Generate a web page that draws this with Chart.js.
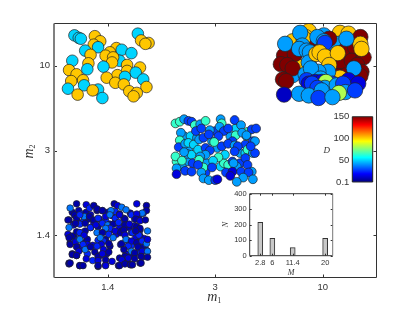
<!DOCTYPE html>
<html>
<head>
<meta charset="utf-8">
<script src="https://cdn.jsdelivr.net/npm/chart.js@4"></script>
<style>
body { margin: 0; background: #fff; }
canvas { position: absolute; left: 0; top: 0; }
</style>
</head>
<body>
<canvas id="main" width="415" height="312"></canvas>
<canvas id="bars" width="415" height="312"></canvas>
<canvas id="scale" width="415" height="312"></canvas>
<script>
// axis labels
const m1Labels = ['1.4', '3', '10'];
const m2Labels = ['1.4', '3', '10'];

// x, y are axis positions (1,2,3 = the labelled masses), d is the colour value
const smallX = [.67,.70,.73,.76,.80,.84,.90,.95,1.00,1.04,1.07,1.11,1.15,1.21,1.25,1.29,1.33,.64,.69,.73,.78,.82,.87,.92,.98,1.02,1.07,1.11,1.16,1.20,1.25,1.30,.66,.69,.74,.79,.84,.91,.97,1.02,1.08,1.13,1.22,1.26,1.30,1.34,.65,.68,.73,.78,.81,.86,.91,.98,1.02,1.12,1.18,1.22,1.28,1.33,1.36,.67,.71,.76,.81,.88,.93,.99,1.17,1.22,1.28,1.32,1.18,1.22,.74,.91,.98,1.10,1.30,.64,
    .71,.65,.80,.83,.87,.90,.95,1.06,1.09,1.03,1.13,1.17,1.27,1.36,1.36,1.32,.63,.69,.71,.78,.74,.83,.87,.91,.98,1.02,1.07,1.11,1.16,1.22,1.27,1.26,1.30,1.35,.68,.64,.74,.70,.79,.84,.89,.95,1.00,1.05,1.10,1.16,1.20,1.27,1.30,1.02,.98,.63,.67,.71,.74,.78,.90,.95,1.01,1.07,1.12,1.15,1.16,1.23,1.29,1.37,1.26,1.05,.64,.65,.70,.74,.81,.77,.96,.94,.93,1.01,1.13,1.17,1.22,1.27,1.32,1.36,1.37,.71,.73,.79,.84,.90,.96,1.01,1.19,1.22,1.28,1.32,1.37,1.15,1.25,.67,.71,.80,.86,.91,.95,.98,1.04,1.11,1.16,1.19,1.25,1.31,1.37,.91,1.13,.64,.65,.91,.98,1.11,1.16,1.21,1.23,1.31,.74,.77];
const smallY = [1.27,1.23,1.29,1.25,1.27,1.24,1.29,1.29,1.27,1.23,1.28,1.25,1.20,1.26,1.19,1.23,1.26,1.18,1.13,1.15,1.17,1.19,1.15,1.19,1.17,1.13,1.15,1.10,1.13,1.09,1.11,1.06,.98,.97,1.03,1.05,1.09,1.10,1.04,1.06,1.01,1.05,1.03,.97,.99,.96,.91,.95,.86,.91,.95,.88,.94,.95,.87,.89,.94,.88,.91,.86,.82,.78,.76,.84,.78,.80,.76,.78,.78,.76,.79,.74,.69,.65,.64,.63,.65,.64,.67,.67,
    1.37,1.32,1.36,1.32,1.35,1.31,1.29,1.37,1.35,1.29,1.33,1.30,1.37,1.35,1.29,1.26,1.18,1.24,1.20,1.22,1.24,1.22,1.18,1.20,1.22,1.24,1.20,1.24,1.19,1.24,1.25,1.19,1.17,1.18,1.12,1.09,1.13,1.14,1.14,1.09,1.12,1.14,1.12,1.13,1.15,1.12,1.13,1.10,1.08,1.08,1.08,1.01,.99,1.04,1.03,1.00,1.03,1.03,1.01,1.05,1.03,1.06,1.00,1.03,1.00,1.05,1.05,.97,.97,.89,.92,.95,.89,.89,.93,.89,.97,.90,.90,.95,.93,.91,.93,.90,.95,.86,.81,.83,.86,.87,.83,.80,.87,.81,.86,.81,.81,.83,.79,.77,.76,.72,.70,.75,.78,.71,.69,.73,.75,.73,.72,.75,.74,.70,.71,.66,.67,.64,.64,.64,.66,.65,.65,.67,.64,.64];
const smallD = [6,14,6,24,6,14,6,24,6,14,24,6,14,6,24,6,14,6,14,6,24,6,14,6,24,14,6,14,24,6,14,6,14,6,24,6,14,6,24,6,14,6,24,14,6,14,6,24,14,6,6,14,24,6,6,14,6,24,14,6,14,6,6,14,24,6,14,6,14,6,24,14,6,6,6,6,14,6,6,6,
    6,36,14,24,6,6,6,6,14,36,36,36,14,6,6,36,6,6,6,36,24,6,6,24,14,36,24,14,6,24,14,6,14,6,14,36,24,6,6,24,14,24,36,6,24,6,14,6,6,24,36,14,6,6,24,14,36,6,24,14,6,6,14,24,24,36,6,36,6,6,14,36,14,24,24,14,36,6,6,36,14,6,24,36,14,6,14,36,6,24,14,6,24,36,6,14,36,6,6,6,6,14,24,6,14,6,14,6,6,14,6,6,6,14,14,6,6,6,14,6,6,6,6,6,6,6];

const midX = [1.71,1.77,1.75,2.00,2.14,2.19,2.28,2.02,2.06,2.23,2.28,2.05,1.92,1.75,2.23,2.20,1.91,2.08,1.97,1.64,1.83,1.69,
    1.63,1.67,1.71,1.75,1.78,1.81,1.86,1.91,2.05,2.06,2.04,2.18,2.24,1.68,1.82,1.87,1.95,2.08,2.12,2.03,2.19,2.30,2.34,2.29,2.25,1.67,1.66,1.72,1.75,1.80,1.85,1.89,1.99,1.94,2.16,2.12,2.18,2.21,2.35,2.30,1.63,1.74,1.78,1.84,1.71,1.91,1.95,1.91,2.09,2.18,2.35,2.03,2.28,1.69,1.79,1.86,1.85,1.98,2.12,2.16,2.17,2.30,1.89,1.84,1.97,1.64,1.72,1.78,1.64,1.87,2.10,2.16,2.14,2.24,2.34,2.31,2.26,2.35,2.20,1.89,1.94,2.00,2.02,2.38,2.29,2.37,2.37,2.33];
const midY = [2.17,2.17,2.01,2.23,2.17,2.26,2.07,2.03,2.05,1.97,1.97,1.81,1.85,1.87,1.85,1.81,1.74,1.85,2.11,1.87,2.15,1.81,
    2.32,2.34,2.37,2.35,2.34,2.30,2.31,2.35,2.37,2.32,2.28,2.36,2.30,2.21,2.23,2.26,2.24,2.23,2.26,2.17,2.18,2.22,2.25,2.17,2.21,2.12,2.04,2.08,2.09,2.07,2.13,2.15,2.10,2.19,2.11,2.08,2.06,2.05,2.11,2.01,1.93,1.96,1.95,2.01,1.98,2.03,2.00,1.95,1.95,1.99,1.97,1.92,1.91,1.88,1.85,1.93,1.89,1.88,1.83,1.87,1.85,1.83,1.80,1.83,1.80,1.79,1.76,1.75,1.72,1.74,1.74,1.75,1.70,1.75,1.75,1.74,1.68,1.66,1.63,1.67,1.65,1.65,1.66,2.26,2.18,2.11,1.97,2.05];
const midD = [42,50,42,28,42,50,28,42,28,42,50,50,42,42,28,42,28,64,42,64,42,42,
    64,64,42,28,28,64,42,64,42,64,42,28,42,42,28,28,42,28,28,28,64,64,28,42,42,64,28,42,50,50,42,28,64,28,28,28,42,28,28,64,64,42,50,50,42,28,28,42,50,28,42,64,28,64,28,42,64,50,64,28,42,28,64,28,28,42,28,28,14,42,28,14,14,28,42,28,42,42,42,42,42,28,14,28,42,42,28,28];

const tealX = [.88,.93,.87,.79,.91,.84,.69,.73,.75,1.08,1.13,1.02,.98,1.11,1.05,1.04,1.22,.82,.81,.67,.64,.71,.77,.66,.78,.63,.72,.91,.95,.86,.96,1.18,1.30,1.18,1.09,.99,1.26,1.16,1.07,1.15,1.33,1.36,1.20,1.27,1.24,1.28,1.38,1.31,1.35];
const tealY = [3.35,3.29,3.25,3.18,3.22,3.13,3.36,3.33,3.32,3.21,3.19,3.16,3.12,3.06,3.10,3.04,3.15,3.03,2.96,3.06,2.95,2.90,2.83,2.82,2.77,2.73,2.66,2.72,2.62,2.71,2.99,3.01,2.98,2.94,2.89,2.86,2.92,2.87,2.80,2.78,2.84,2.75,2.70,2.68,2.64,3.38,3.27,3.30,3.26];
const tealD = [102,102,102,50,50,102,50,50,50,102,50,102,102,50,102,102,50,102,50,50,102,102,102,102,50,50,102,50,50,102,50,102,102,102,102,102,50,50,102,102,50,102,102,102,102,50,102,102,102];

const bigX = [2.87,3.16,2.72,3.24,2.73,2.77,3.32,2.84, 2.72,3.26,3.01,2.84,3.10,3.15,
    3.06,3.35,2.93,2.99,3.22,3.30,2.64,2.74,2.61,2.67,2.72,3.09,3.16,3.27,3.38,3.32,3.36,3.35,2.63,2.66,3.15,3.22,
    3.16,2.82,3.35,3.36, 2.79,2.65,2.95,3.22,2.81,2.78,2.85,2.88,2.87,3.29, 3.01,3.02, 2.94,2.97,3.02,3.14,3.06,
    2.91,2.84,3.05,2.96,2.89,2.98,
    2.85,2.93,2.87,2.98,2.99,3.09,3.24,3.33,2.90,3.03,3.02,2.95,3.13,3.19,
    2.78,2.87,2.99,3.21,3.15,3.30,2.96,3.09,2.64];
const bigY = [3.41,3.39,3.29,3.38,3.10,2.99,3.07,3.34, 2.89,3.12,3.36,3.24,3.20,3.26,
    3.32,3.34,3.28,3.26,3.20,3.22,3.12,3.14,3.02,3.01,2.97,3.10,3.04,3.06,3.10,3.01,2.93,2.88,2.84,2.82,2.88,2.89,
    2.86,3.33,3.26,3.20, 3.39,3.26,3.34,3.32,3.24,3.20,3.18,3.16,3.04,2.97, 3.29,3.27, 3.14,3.16,3.11,3.15,3.01,
    2.93,2.90,2.93,2.93,2.97,2.85,
    2.83,2.81,2.79,2.77,2.81,2.79,2.83,2.79,2.79,2.81,2.74,2.74,2.77,2.79,
    2.67,2.65,2.71,2.69,2.68,2.71,2.62,2.63,2.66];
const bigD = [102,102,102,102,102,102,102,102, 42,42,42,42,42,42,
    150,150,150,150,150,150,150,150,150,150,150,150,150,150,150,150,150,150,150,150,150,150,
    102,102,102,102, 42,42,42,42,42,42,42,42,42,42, 42,28, 102,102,102,102,102,
    42,42,42,42,42,42,
    28,14,14,28,14,28,14,14,28,82,42,28,42,28,
    42,42,42,42,82,28,28,42,10];

// inset histogram
const massValues = [2.8, 6, 11.4, 20];
const massCounts = [215, 112, 52, 112];
const countTicks = [0, 100, 200, 300, 400];

// colour bar
const scaleTicks = [0.1, 50, 100, 150];
const scaleRange = [0.1, 150];

// same ramp as matlab jet
function jet(d) {
    const t = (d - scaleRange[0]) / (scaleRange[1] - scaleRange[0]);
    const ch = v => Math.round(255 * Math.max(0, Math.min(1, 1.5 - Math.abs(4 * t - v))));
    return 'rgb(' + ch(3) + ',' + ch(2) + ',' + ch(1) + ')';
}

function series(xs, ys, ds, radius) {
    return {
        data: xs.map((x, i) => ({ x: x, y: ys[i], d: ds[i] })),
        pointRadius: radius,
        pointHoverRadius: radius,
        pointBorderWidth: 0.7,
        pointBorderColor: '#222',
        pointBackgroundColor: c => jet(c.raw.d)
    };
}

// box round the axes with ticks pointing inward
function framePlugin(leftColor, leftWidth, rightColor, tickLen) {
    return {
        id: 'frame',
        afterDatasetsDraw(chart) {
            const a = chart.chartArea, g = chart.ctx;
            const line = (x1, y1, x2, y2, col, w) => {
                g.strokeStyle = col; g.lineWidth = w;
                g.beginPath(); g.moveTo(x1, y1); g.lineTo(x2, y2); g.stroke();
            };
            g.save();
            if (tickLen > 0) {
                chart.scales.x.ticks.forEach(t => {
                    const p = Math.round(chart.scales.x.getPixelForValue(t.value)) + 0.5;
                    line(p, a.top, p, a.top + tickLen, '#333', 1);
                    line(p, a.bottom, p, a.bottom - tickLen, '#333', 1);
                });
                chart.scales.y.ticks.forEach(t => {
                    const p = Math.round(chart.scales.y.getPixelForValue(t.value)) + 0.5;
                    line(a.left, p, a.left + tickLen, p, '#333', 1);
                    line(a.right, p, a.right - tickLen, p, '#333', 1);
                });
            }
            line(a.left, a.top, a.right, a.top, '#333', 1);
            line(a.left, a.bottom, a.right, a.bottom, '#333', 1);
            line(a.right, a.top, a.right, a.bottom, rightColor, 1);
            line(a.left, a.top, a.left, a.bottom, leftColor, leftWidth);
            g.restore();
        }
    };
}

// m with a small index, the main axis names
const massTitles = {
    id: 'massTitles',
    afterDraw(chart) {
        const g = chart.ctx;
        const name = (x, y, rot, sub) => {
            g.save();
            g.translate(x, y);
            g.rotate(rot);
            g.fillStyle = '#333';
            g.textBaseline = 'alphabetic';
            g.textAlign = 'left';
            g.font = 'italic 14px "Liberation Serif"';
            g.fillText('m', -8, 4);
            g.font = '8px "Liberation Serif"';
            g.fillText(sub, 2, 6);
            g.restore();
        };
        name(chart.scales.x.getPixelForValue(2), 297, 0, '1');
        name(29, chart.scales.y.getPixelForValue(2), -Math.PI / 2, '2');
    }
};

const sansTick = size => ({ family: 'Liberation Sans', size: size });
const mathFont = size => ({ family: 'Liberation Serif', style: 'italic', size: size });

new Chart(document.getElementById('main'), {
    type: 'scatter',
    data: {
        datasets: [
            series(smallX, smallY, smallD, 3.3),
            series(midX, midY, midD, 4.4),
            series(tealX, tealY, tealD, 5.8),
            series(bigX, bigY, bigD, 7.7)
        ]
    },
    options: {
        responsive: false,
        animation: false,
        layout: { padding: { top: 23.5, right: 38.5 } },
        plugins: { legend: { display: false }, tooltip: { enabled: false } },
        scales: {
            x: {
                type: 'linear', min: 0.5, max: 3.5,
                afterBuildTicks: s => { s.ticks = m1Labels.map((l, i) => ({ value: i + 1 })); },
                afterFit: s => { s.height = 34.5; },
                grid: { display: false, drawTicks: false }, border: { display: false },
                ticks: { padding: 4, color: '#333', font: sansTick(9.5), autoSkip: false, maxRotation: 0, callback: v => m1Labels[v - 1] }
            },
            y: {
                type: 'linear', min: 0.5, max: 3.5,
                afterBuildTicks: s => { s.ticks = m2Labels.map((l, i) => ({ value: i + 1 })); },
                afterFit: s => { s.width = 54; },
                grid: { display: false, drawTicks: false }, border: { display: false },
                ticks: { padding: 4, color: '#333', font: sansTick(9.5), autoSkip: false, callback: v => m2Labels[v - 1] }
            }
        }
    },
    plugins: [framePlugin('#808080', 2, '#333', 3), massTitles]
});

new Chart(document.getElementById('bars'), {
    type: 'bar',
    data: {
        datasets: [{
            data: massValues.map((m, i) => ({ x: m, y: massCounts[i] })),
            backgroundColor: '#c8c8c8',
            borderColor: '#333',
            borderWidth: 1,
            barThickness: 5
        }]
    },
    options: {
        responsive: false,
        animation: false,
        layout: { padding: { top: 193.7, right: 82.3 } },
        plugins: { legend: { display: false }, tooltip: { enabled: false } },
        scales: {
            x: {
                type: 'linear', min: 0, max: 22, offset: false,
                afterBuildTicks: s => { s.ticks = massValues.map(v => ({ value: v })); },
                afterFit: s => { s.height = 56.3; },
                grid: { display: false, drawTicks: false }, border: { display: false },
                ticks: { padding: 3, color: '#333', font: sansTick(7.5), autoSkip: false, maxRotation: 0, callback: v => String(v) },
                title: { display: true, text: 'M', color: '#333', font: mathFont(8), padding: { top: 0, bottom: 34 } }
            },
            y: {
                min: 0, max: 400,
                afterBuildTicks: s => { s.ticks = countTicks.map(v => ({ value: v })); },
                afterFit: s => { s.width = 249.7; },
                grid: { display: false, drawTicks: false }, border: { display: false },
                ticks: { padding: 3, color: '#333', font: sansTick(7.5), autoSkip: false },
                title: { display: true, text: 'N', color: '#333', font: mathFont(8), padding: { top: 221, bottom: 0 } }
            }
        }
    },
    plugins: [framePlugin('#333', 1, '#777', 2)]
});

new Chart(document.getElementById('scale'), {
    type: 'bar',
    data: {
        labels: [''],
        datasets: [{
            data: [scaleRange],
            barPercentage: 1,
            categoryPercentage: 1,
            backgroundColor: c => {
                const a = c.chart.chartArea;
                if (!a) return '#000';
                const grad = c.chart.ctx.createLinearGradient(0, a.bottom, 0, a.top);
                for (let i = 0; i <= 16; i++) {
                    grad.addColorStop(i / 16, jet(scaleRange[0] + (scaleRange[1] - scaleRange[0]) * i / 16));
                }
                return grad;
            }
        }]
    },
    options: {
        responsive: false,
        animation: false,
        layout: { padding: { top: 116.7, right: 42.3, bottom: 130 } },
        plugins: { legend: { display: false }, tooltip: { enabled: false } },
        scales: {
            x: { display: false },
            y: {
                min: scaleRange[0], max: scaleRange[1],
                afterBuildTicks: s => { s.ticks = scaleTicks.map(v => ({ value: v })); },
                afterFit: s => { s.width = 352.3; },
                grid: { display: false, drawTicks: false }, border: { display: false },
                ticks: { padding: 3, color: '#333', font: sansTick(9.5), autoSkip: false, callback: v => String(v) }
            }
        }
    },
    plugins: [framePlugin('#222', 1, '#222', 0), {
        id: 'scaleName',
        afterDraw(chart) {
            const g = chart.ctx;
            g.save();
            g.font = 'italic 9px "Liberation Serif"';
            g.fillStyle = '#333';
            g.textAlign = 'center';
            g.textBaseline = 'middle';
            g.fillText('D', chart.chartArea.left - 25.5, chart.scales.y.getPixelForValue(72));
            g.restore();
        }
    }]
});
</script>
</body>
</html>
